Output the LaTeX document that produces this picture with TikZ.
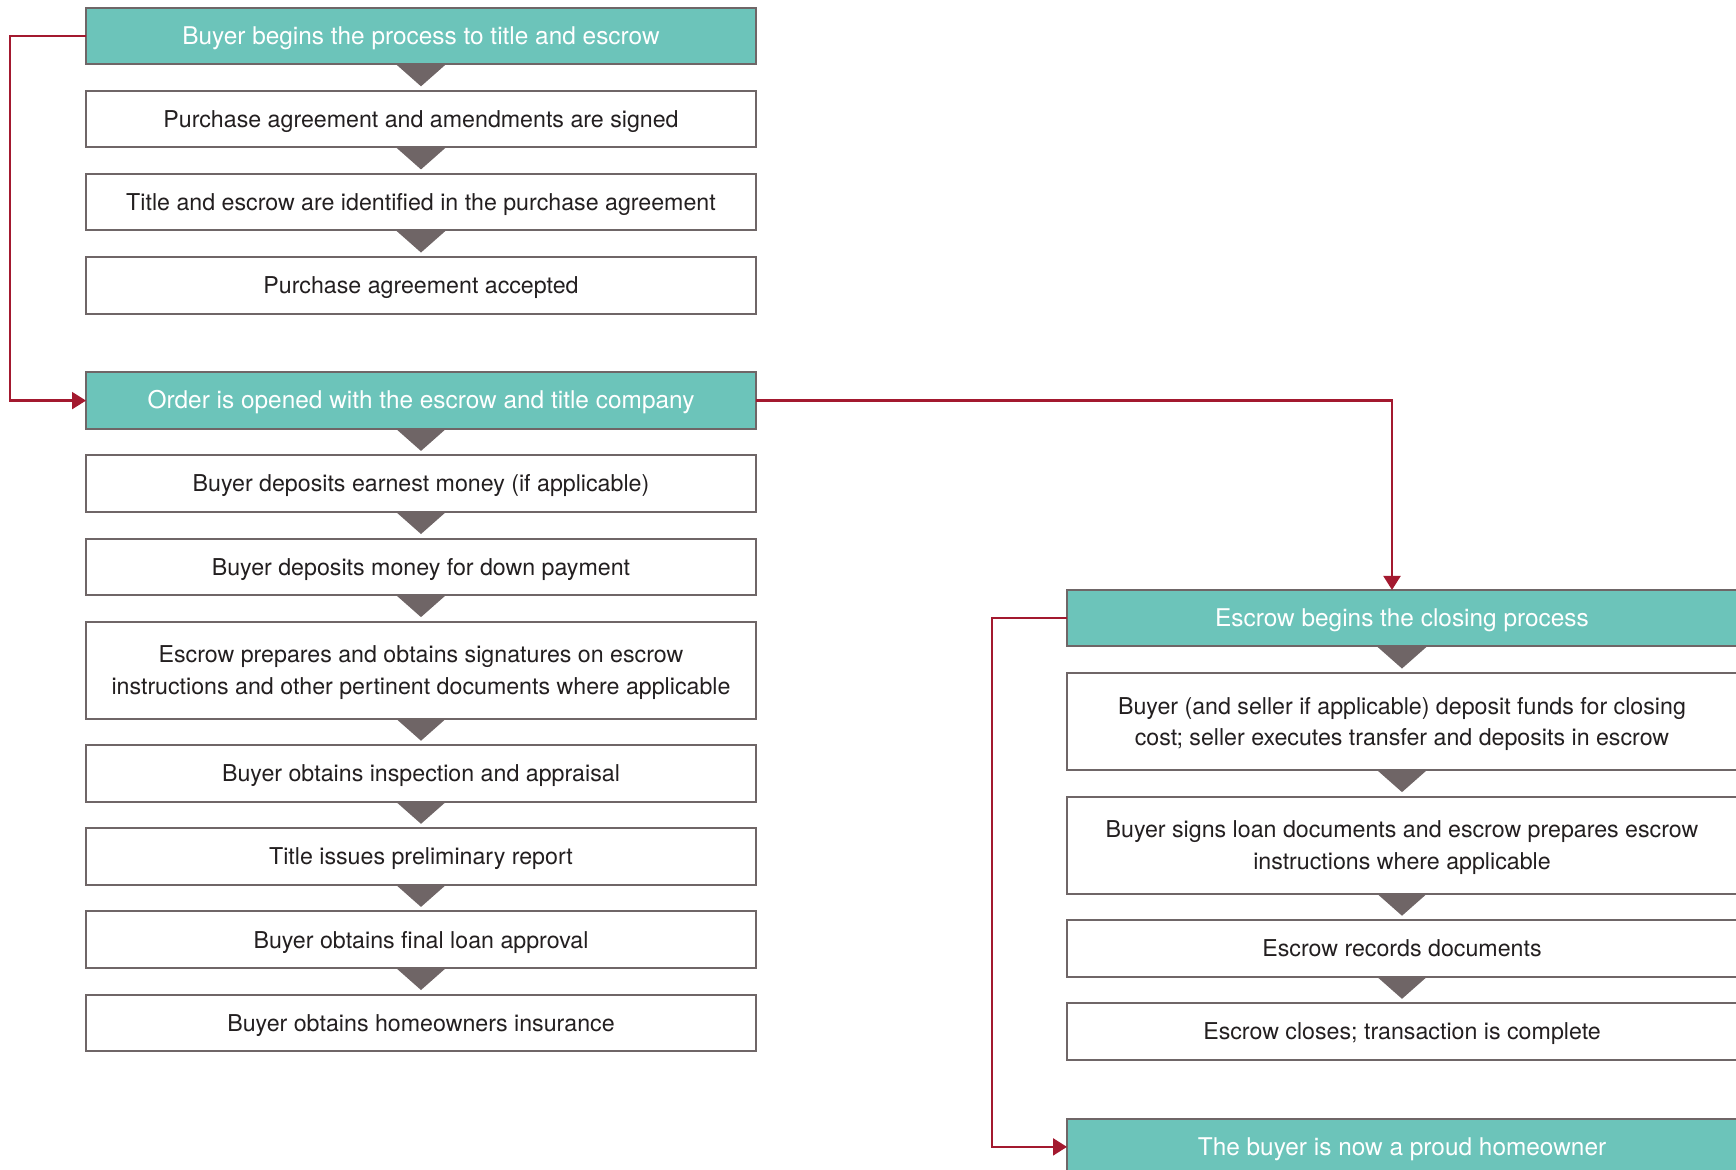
\documentclass[tikz,border=0pt]{standalone}
\usepackage{fontspec}
\setmainfont{TeX Gyre Heros}
\usetikzlibrary{positioning,arrows.meta,calc}

\definecolor{headteal}{HTML}{6CC4BA}
\definecolor{framegray}{HTML}{6F6667}
\definecolor{notchgray}{HTML}{6F6566}
\definecolor{linkred}{HTML}{A3192F}
\definecolor{ink}{HTML}{231F20}

\tikzset{
	stepbox/.style={draw=framegray, line width=1pt, fill=white, text=ink,
		minimum width=335pt, minimum height=28.25pt, inner sep=0pt, outer sep=0pt,
		text height=9.5pt, text depth=1.2pt,
		align=center, font=\fontsize{11.6}{15.7}\selectfont},
	tallbox/.style={stepbox, minimum height=48.5pt, text height=25.2pt},
	headbox/.style={stepbox, fill=headteal, text=white, font=\fontsize{12.2}{15.7}\selectfont},
	link/.style={draw=linkred, line width=1.1pt, -{Triangle[width=8.5pt,length=7pt]}},
	notch/.style={fill=notchgray},
}

\begin{document}
\begin{tikzpicture}[node distance=13.3pt]
	\useasboundingbox (0,0) rectangle (868pt,-585pt);
	
	% left column
	\node[headbox] (buy) at (210.5pt,-18pt) {Buyer begins the process to title and escrow};
	\node[stepbox, below=of buy] (sign) {Purchase agreement and amendments are signed};
	\node[stepbox, below=of sign] (ident) {Title and escrow are identified in the purchase agreement};
	\node[stepbox, below=of ident] (accept) {Purchase agreement accepted};
	\node[headbox, below=29.4pt of accept] (order) {Order is opened with the escrow and title company};
	\node[stepbox, below=of order] (earnest) {Buyer deposits earnest money (if applicable)};
	\node[stepbox, below=of earnest] (down) {Buyer deposits money for down payment};
	\node[tallbox, below=of down] (instr) {Escrow prepares and obtains signatures on escrow\\instructions and other pertinent documents where applicable};
	\node[stepbox, below=of instr] (inspect) {Buyer obtains inspection and appraisal};
	\node[stepbox, below=of inspect] (prelim) {Title issues preliminary report};
	\node[stepbox, below=of prelim] (loan) {Buyer obtains final loan approval};
	\node[stepbox, below=of loan] (insure) {Buyer obtains homeowners insurance};
	
	% right column
	\node[headbox] (close) at (701pt,-309.1pt) {Escrow begins the closing process};
	\node[tallbox, below=of close] (funds) {Buyer (and seller if applicable) deposit funds for closing\\cost; seller executes transfer and deposits in escrow};
	\node[tallbox, below=of funds] (loandocs) {Buyer signs loan documents and escrow prepares escrow\\instructions where applicable};
	\node[stepbox, below=of loandocs] (record) {Escrow records documents};
	\node[stepbox, below=of record] (closes) {Escrow closes; transaction is complete};
	\node[headbox, below=29.4pt of closes] (owner) {The buyer is now a proud homeowner};
	
	% notches between steps
	\foreach \p/\q in {buy/sign, sign/ident, ident/accept, order/earnest, earnest/down,
		down/instr, instr/inspect, inspect/prelim, prelim/loan, loan/insure,
		close/funds, funds/loandocs, loandocs/record, record/closes}
		\fill[notch] (\p.south) ++(-12.5pt,0) -- ++(25pt,0) -- ($(\p.south)!0.83!(\q.north)$) -- cycle;
	
	\draw[link] (buy.west) -- ++(-38pt,0) |- (order.west);
	\draw[link] (order.east) -| ([xshift=-5pt]close.north);
	\draw[link] (close.west) -- ++(-37.5pt,0) |- (owner.west);
\end{tikzpicture}
\end{document}
